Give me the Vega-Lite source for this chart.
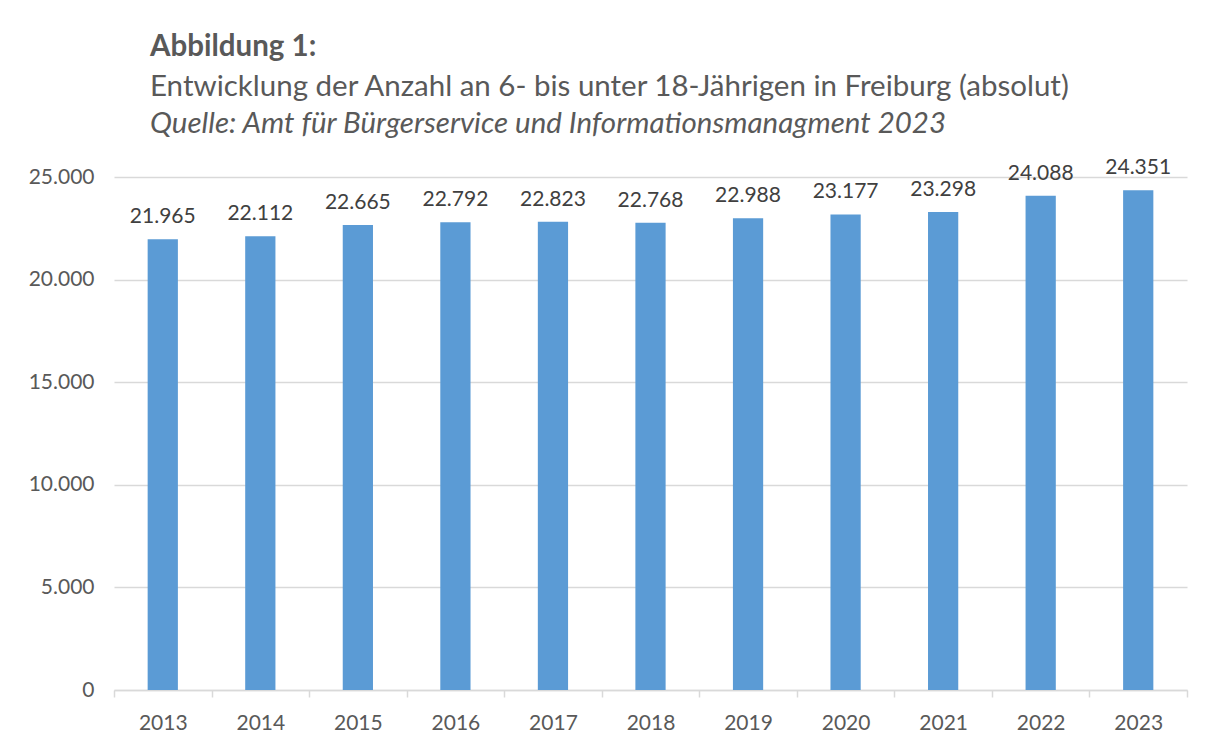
{
  "$schema": "https://vega.github.io/schema/vega-lite/v6.json",
  "background": "white",
  "padding": {"left": 28, "top": 31, "right": 25, "bottom": 4},
  "config": {
    "locale": {"number": {"decimal": ",", "thousands": ".", "grouping": [3], "currency": ["", " €"]}},
    "view": {"stroke": null},
    "font": "Lato",
    "concat": {"spacing": 0}
  },
  "title": {
    "text": "Abbildung 1:",
    "subtitle": "Entwicklung der Anzahl an 6- bis unter 18-Jährigen in Freiburg (absolut)",
    "anchor": "start",
    "frame": "group",
    "font": "Lato",
    "fontSize": 29.5,
    "fontWeight": "bold",
    "color": "#595959",
    "subtitleFont": "Lato",
    "subtitleFontSize": 29.5,
    "subtitleColor": "#595959",
    "subtitlePadding": 11,
    "dx": 36,
    "offset": 6
  },
  "vconcat": [
    {
      "width": 1073,
      "height": 513,
      "title": {
        "text": "Quelle: Amt für Bürgerservice und Informationsmanagment 2023",
        "font": "Lato",
        "fontStyle": "italic",
        "fontWeight": "normal",
        "fontSize": 29.5,
        "color": "#595959",
        "anchor": "start",
        "frame": "group",
        "dx": 36,
        "offset": 18
      },
      "data": {
        "values": [
          {"Jahr": "2013", "Anzahl": 21965},
          {"Jahr": "2014", "Anzahl": 22112},
          {"Jahr": "2015", "Anzahl": 22665},
          {"Jahr": "2016", "Anzahl": 22792},
          {"Jahr": "2017", "Anzahl": 22823},
          {"Jahr": "2018", "Anzahl": 22768},
          {"Jahr": "2019", "Anzahl": 22988},
          {"Jahr": "2020", "Anzahl": 23177},
          {"Jahr": "2021", "Anzahl": 23298},
          {"Jahr": "2022", "Anzahl": 24088},
          {"Jahr": "2023", "Anzahl": 24351}
        ]
      },
      "encoding": {
        "x": {
          "field": "Jahr",
          "type": "ordinal",
          "title": null,
          "scale": {"paddingInner": 0, "paddingOuter": 0},
          "axis": {
            "labelAngle": 0,
            "labelFontSize": 21,
            "labelColor": "#595959",
            "labelPadding": 15,
            "domainColor": "#d9d9d9",
            "domainWidth": 1.5,
            "tickColor": "#d9d9d9",
            "tickWidth": 1.5,
            "tickSize": 7,
            "tickBand": "extent",
            "grid": false
          }
        },
        "y": {
          "field": "Anzahl",
          "type": "quantitative",
          "title": null,
          "scale": {"domain": [0, 25000], "nice": false},
          "axis": {
            "values": [0, 5000, 10000, 15000, 20000, 25000],
            "format": ",d",
            "labelFontSize": 21,
            "labelColor": "#595959",
            "labelPadding": 20,
            "domain": false,
            "ticks": false,
            "gridColor": "#d9d9d9",
            "gridWidth": 1.5
          }
        }
      },
      "layer": [
        {"mark": {"type": "bar", "color": "#5B9BD5", "width": {"band": 0.31}}},
        {
          "mark": {"type": "text", "baseline": "bottom", "dy": -12, "fontSize": 21, "color": "#404040"},
          "encoding": {"text": {"field": "Anzahl", "type": "quantitative", "format": ",d"}}
        }
      ]
    }
  ]
}
